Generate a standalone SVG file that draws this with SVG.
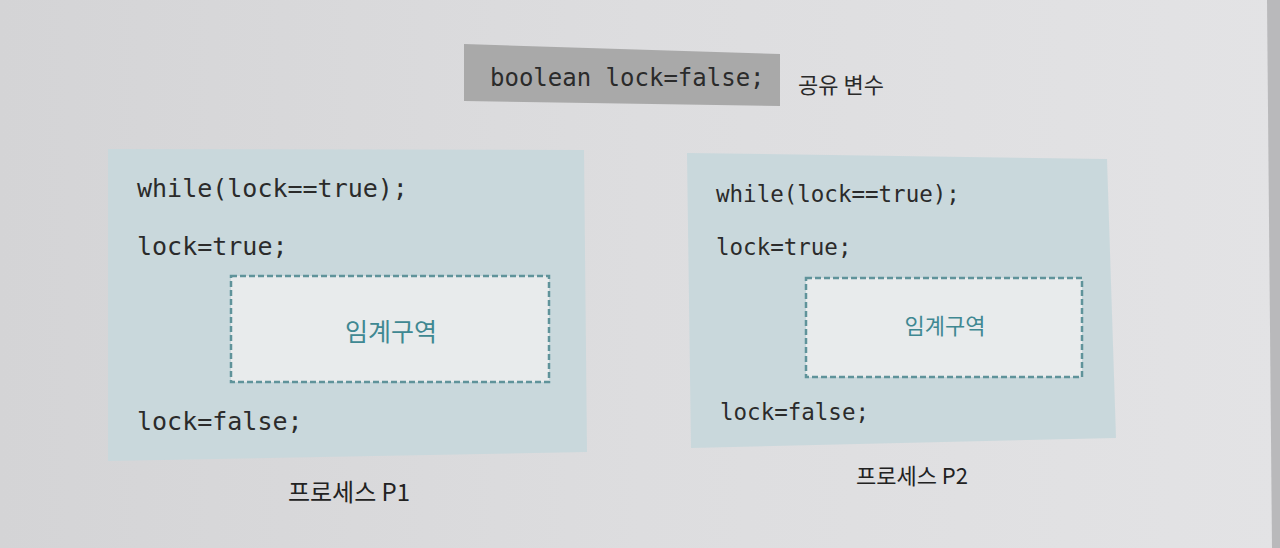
<svg xmlns="http://www.w3.org/2000/svg" width="1280" height="548" viewBox="0 0 1280 548">
<defs>
<linearGradient id="bg" x1="0" y1="0" x2="1" y2="0">
<stop offset="0" stop-color="#d4d4d6"/>
<stop offset="0.5" stop-color="#dddddf"/>
<stop offset="1" stop-color="#e3e3e5"/>
</linearGradient>
</defs>
<style>
.code{font-family:"DejaVu Sans Mono","Liberation Mono",monospace;fill:#2b2b2b}
.c1{font-size:25px}
.c2{font-size:22.5px}
.proc{fill:#c9d8dc}
.cs{fill:#e8ebec;stroke:#5f939a;stroke-width:2.5;stroke-dasharray:6 3}
.cslabel{font-family:"Noto Sans CJK KR","Noto Sans",sans-serif;fill:#3f8892;text-anchor:middle}
.cap{font-family:"Noto Sans CJK KR","Noto Sans",sans-serif;fill:#222;text-anchor:middle}
</style>
<rect x="0" y="0" width="1280" height="548" fill="url(#bg)"/>
<polygon points="1267,0 1280,0 1280,548 1272,548" fill="#b9b9bb"/>
<g id="shared">
<polygon points="464,44 780,54 780,106 464,101" fill="#a9a9a9"/>
<text class="code" x="490" y="86" style="font-size:24px">boolean lock=false;</text>
<text x="798" y="93" style="font-family:'Noto Sans CJK KR','Noto Sans',sans-serif;font-size:22px;fill:#2a2a2a">공유 변수</text>
</g>
<g id="p1">
<polygon class="proc" points="108,149 584,150 587,452 108,461"/>
<text class="code c1" x="137" y="197">while(lock==true);</text>
<text class="code c1" x="137" y="255">lock=true;</text>
<rect class="cs" x="231" y="276" width="318" height="106"/>
<text class="cslabel" x="391" y="341" style="font-size:25px">임계구역</text>
<text class="code c1" x="137" y="430">lock=false;</text>
<text class="cap" x="349" y="501" style="font-size:24px">프로세스 P1</text>
</g>
<g id="p2">
<polygon class="proc" points="687,153 1107,159 1116,438 691,448"/>
<text class="code c2" x="716" y="202">while(lock==true);</text>
<text class="code c2" x="716" y="255">lock=true;</text>
<rect class="cs" x="806" y="278" width="276" height="99"/>
<text class="cslabel" x="945" y="334" style="font-size:22px">임계구역</text>
<text class="code c2" x="720" y="420">lock=false;</text>
<text class="cap" x="912" y="484" style="font-size:22px">프로세스 P2</text>
</g>
<g id="connectors"></g>
</svg>
